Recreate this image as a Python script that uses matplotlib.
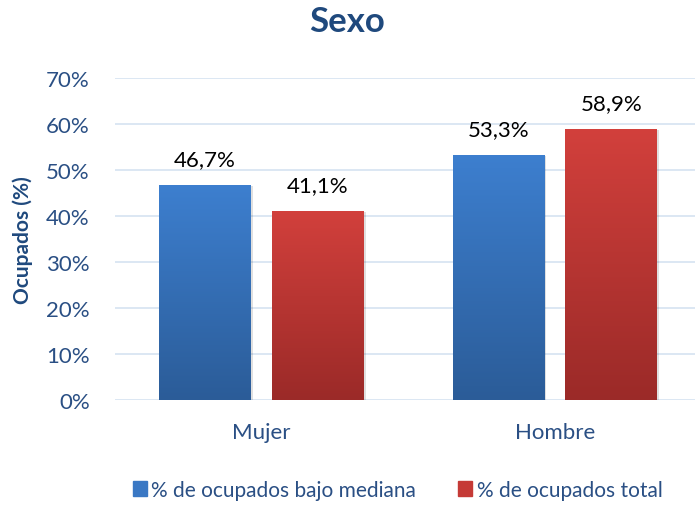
import numpy as np
import matplotlib
matplotlib.use("Agg")
import matplotlib.pyplot as plt

plt.rcParams['font.family'] = ['Lato', 'DejaVu Sans']

categories = ["Mujer", "Hombre"]
bajo_mediana = [46.7, 53.3]
total = [41.1, 58.9]
series_names = ["% de ocupados bajo mediana", "% de ocupados total"]
yticks = [0, 10, 20, 30, 40, 50, 60, 70]

dark_blue = "#1F497D"
label_blue = "#2A4F84"

fig = plt.figure(figsize=(6.95, 5.06), dpi=100)
ax = fig.add_axes([0.165, 0.2075, 0.835, 0.6365])

x = np.arange(len(categories))
width = 0.313
offset = 0.192

# gradient (top color, bottom color)
grads = [("#3D7FCF", "#2B5C98"), ("#D2403C", "#9B2A28")]
legend_colors = ["#3A78C4", "#C53A36"]

def gradient_bars(bars, top, bottom):
    c1 = np.array(matplotlib.colors.to_rgb(top))
    c2 = np.array(matplotlib.colors.to_rgb(bottom))
    t = np.linspace(0, 1, 256)[:, None]
    img = (c1 * (1 - t) + c2 * t)[:, None, :]
    for b in bars:
        x0, y0 = b.get_x(), b.get_y()
        w, h = b.get_width(), b.get_height()
        # soft shadow
        ax.bar(x0 + w / 2 + 0.006, h, w, bottom=-0.25, color="#000000", alpha=0.12, zorder=2)
        im = ax.imshow(img, extent=[x0, x0 + w, y0, y0 + h], aspect="auto",
                       origin="upper", zorder=3)
        im.set_clip_path(b)

for i, (vals, name) in enumerate(zip([bajo_mediana, total], series_names)):
    pos = x + (-offset if i == 0 else offset)
    bars = ax.bar(pos, vals, width, color="none", edgecolor="none", zorder=3)
    gradient_bars(bars, *grads[i])
    for p, v in zip(pos, vals):
        ax.text(p, v + 4.3, f"{v:.1f}%".replace(".", ","), ha="center", va="baseline",
                fontsize=16, color="#000000", zorder=5)

ax.set_xlim(-0.5, 1.477)
ax.set_ylim(0, 70)
ax.set_yticks(yticks)
ax.set_yticklabels([f"{v}%" for v in yticks], fontsize=16, color=label_blue)
ax.set_xticks(x)
ax.set_xticklabels(categories, fontsize=16, color=label_blue)
ax.tick_params(axis="y", length=0, pad=18)
ax.tick_params(axis="x", length=0, pad=16)
ax.yaxis.grid(True, color="#D6E3F1", linewidth=1.2)
ax.set_axisbelow(True)
for s in ax.spines.values():
    s.set_visible(False)

ax.set_ylabel("Ocupados (%)", fontsize=15, fontweight="bold", color=dark_blue, labelpad=9)
fig.text(0.5, 0.957, "Sexo", ha="center", va="center", fontsize=25,
         fontweight="bold", color=dark_blue)

handles = [plt.Rectangle((0, 0), 1, 1, color=c) for c in legend_colors]
leg = fig.legend(handles, series_names, loc="center", bbox_to_anchor=(0.572, 0.03),
                 ncol=2, frameon=False, fontsize=15, handlelength=0.7,
                 handleheight=0.7, handletextpad=0.2, columnspacing=2.0)
for t in leg.get_texts():
    t.set_color(label_blue)

fig.savefig("out.png", dpi=100)
